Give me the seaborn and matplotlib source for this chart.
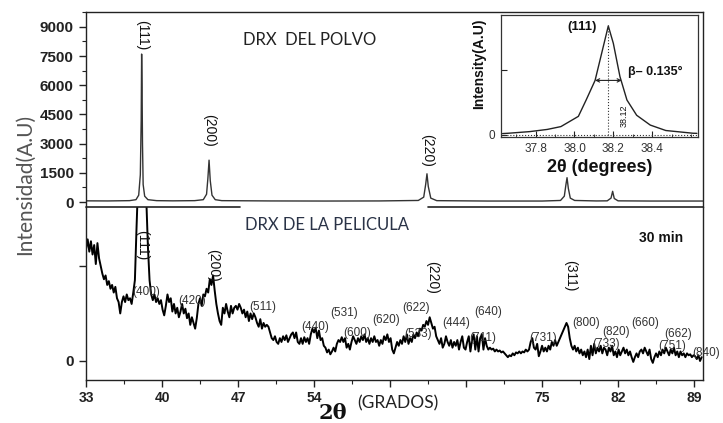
import numpy as np
import pandas as pd
import matplotlib
matplotlib.use("Agg")
import matplotlib.pyplot as plt
import seaborn as sns

# ---------------- data ----------------
# Powder pattern (top panel)
powder_2theta = [33.0, 35.0, 37.0, 37.6, 37.85, 38.0, 38.08, 38.12, 38.16, 38.2, 38.26,
                 38.4, 38.7, 39.5, 41.0, 43.0, 43.8, 44.1, 44.22, 44.33, 44.44, 44.6,
                 44.9, 45.5, 50.0, 55.0, 60.0, 63.6, 64.1, 64.28, 64.4, 64.52, 64.75,
                 65.3, 70.0, 75.0, 76.7, 77.05, 77.2, 77.3, 77.42, 77.6, 78.0, 80.0,
                 81.0, 81.35, 81.5, 81.65, 82.0, 85.0, 89.8]
powder_counts = [60, 55, 70, 120, 350, 1400, 4200, 7600, 5900, 3000, 900,
                 300, 120, 70, 60, 70, 120, 400, 1200, 2150, 1100, 350,
                 120, 70, 55, 50, 55, 80, 250, 900, 1450, 800, 200,
                 70, 50, 50, 80, 300, 900, 1250, 700, 200, 80, 55,
                 60, 200, 550, 180, 60, 50, 50]
powder_peak_labels = ["(111)", "(200)", "(220)"]
powder_peak_2theta = [38.16, 44.33, 64.4]

# Film pattern (bottom panel), 33.0 .. 89.7 deg scan
film_intensity = [
    1.18, 1.28, 1.15, 1.26, 1.12, 1.22, 1.02, 1.24, 1.08, 1.00, 0.92, 0.86, 0.90, 0.80, 0.84,
    0.76, 0.80, 0.72, 0.78, 0.66, 0.62, 0.50, 0.62, 0.68, 0.62, 0.70, 0.64, 0.66, 0.60, 0.72,
    0.85, 1.40, 1.90, 2.05, 2.10, 2.05, 1.95, 1.70, 1.20, 0.85, 0.70,
    0.64, 0.70, 0.62, 0.66, 0.60, 0.64, 0.54, 0.48, 0.58, 0.70, 0.62, 0.66, 0.52, 0.60, 0.50,
    0.56, 0.46, 0.52, 0.60, 0.50, 0.55, 0.45, 0.50, 0.38, 0.46, 0.40, 0.34, 0.45, 0.60, 0.66,
    0.58, 0.70, 0.68, 0.76, 0.72, 0.86, 0.80, 0.90, 0.74, 0.60, 0.50, 0.42, 0.38, 0.56, 0.50,
    0.60, 0.52, 0.46, 0.58, 0.50, 0.56, 0.58, 0.54, 0.60, 0.56, 0.50, 0.54, 0.46, 0.52, 0.42,
    0.50, 0.44, 0.50, 0.46, 0.40, 0.36, 0.44, 0.34, 0.40, 0.36, 0.38, 0.36, 0.30, 0.24, 0.22,
    0.26, 0.20, 0.18, 0.24, 0.20, 0.26, 0.22, 0.27, 0.20, 0.24, 0.28, 0.30, 0.24, 0.30, 0.20,
    0.18, 0.24, 0.18, 0.25, 0.20, 0.24, 0.18, 0.28, 0.34, 0.30, 0.35, 0.24, 0.32, 0.22, 0.24,
    0.16, 0.14, 0.09, 0.12, 0.07, 0.10, 0.14, 0.10, 0.18, 0.22, 0.20, 0.25, 0.20, 0.24, 0.14,
    0.18, 0.12, 0.20, 0.26, 0.22, 0.18, 0.24, 0.20, 0.26, 0.22, 0.28, 0.20, 0.24, 0.18, 0.24,
    0.20, 0.26, 0.20, 0.22, 0.16, 0.22, 0.18, 0.26, 0.22, 0.28, 0.20, 0.24, 0.12, 0.08, 0.14,
    0.20, 0.16, 0.22, 0.18, 0.26, 0.20, 0.28, 0.18, 0.24, 0.20, 0.28, 0.24, 0.30, 0.26, 0.34,
    0.32, 0.38, 0.36, 0.42, 0.38, 0.46, 0.40, 0.34, 0.36, 0.26, 0.22, 0.18, 0.24, 0.14, 0.18,
    0.26, 0.20, 0.16, 0.22, 0.14, 0.20, 0.16, 0.22, 0.12, 0.20, 0.26, 0.14, 0.12, 0.20, 0.26,
    0.10, 0.22, 0.28, 0.12, 0.26, 0.10, 0.24, 0.28, 0.12, 0.24, 0.16, 0.12, 0.14, 0.12, 0.13,
    0.10, 0.12, 0.10, 0.11, 0.09, 0.10, 0.08, 0.06, 0.04, 0.06, 0.05, 0.08, 0.06, 0.09, 0.08,
    0.10, 0.08, 0.10, 0.09, 0.12, 0.10, 0.12, 0.20, 0.24, 0.14, 0.12, 0.18, 0.05, 0.10, 0.16,
    0.10, 0.14, 0.10, 0.16, 0.12, 0.20, 0.16, 0.22, 0.16, 0.20, 0.24, 0.28, 0.32, 0.36, 0.40,
    0.36, 0.24, 0.16, 0.12, 0.16, 0.10, 0.14, 0.08, 0.12, 0.06, 0.10, 0.04, 0.12, 0.02, 0.16,
    0.06, 0.18, 0.08, 0.14, 0.10, 0.16, 0.08, 0.14, 0.12, 0.06, 0.14, 0.10, 0.16, 0.06, 0.10,
    0.04, 0.12, 0.06, 0.10, 0.14, 0.08, 0.12, 0.06, 0.10, 0.04, -0.01, 0.04, 0.08, 0.04, 0.10,
    0.12, 0.08, 0.14, 0.10, 0.06, 0.12, 0.02, -0.02, 0.04, 0.08, 0.04, 0.10, 0.06, 0.12, 0.08,
    0.14, 0.10, 0.06, 0.12, 0.08, 0.14, 0.06, 0.10, 0.04, 0.10, 0.06, 0.08, 0.04, 0.08, 0.06,
    0.07, 0.04, 0.06, 0.05, 0.02, 0.06, 0.00, 0.04]
film_2theta = np.linspace(33.0, 89.7, len(film_intensity))

film_main_labels = ["(111)", "(200)", "(220)", "(311)"]
film_main_2theta = [38.2, 44.7, 64.9, 77.6]
film_main_height = [1.22, 1.01, 0.88, 0.90]

film_minor_labels = ["(400)", "(420)", "(511)", "(531)", "(440)", "(600)", "(620)",
                     "(622)", "(444)", "(640)", "(533)", "(711)", "(731)", "(800)",
                     "(820)", "(733)", "(660)", "(662)", "(751)", "(840)"]
film_minor_2theta = [38.52, 42.76, 49.30, 56.76, 54.09, 57.95, 60.62,
                     63.39, 67.07, 70.02, 63.57, 69.56, 75.08, 79.04,
                     81.80, 80.88, 84.47, 87.51, 86.96, 90.09]
film_minor_height = [0.726, 0.632, 0.568, 0.505, 0.358, 0.295, 0.432,
                     0.558, 0.40, 0.516, 0.284, 0.242, 0.242, 0.40,
                     0.305, 0.175, 0.40, 0.284, 0.158, 0.084]

# Inset (111) peak profile (normalised)
inset_2theta = [37.63, 37.66, 37.77, 37.86, 37.93, 38.02, 38.06, 38.106, 38.14, 38.174,
                38.20, 38.234, 38.27, 38.32, 38.39, 38.47, 38.61, 38.63]
inset_intensity = [0.012, 0.015, 0.03, 0.05, 0.076, 0.17, 0.32, 0.50, 0.75, 1.0,
                   0.84, 0.535, 0.32, 0.18, 0.09, 0.04, 0.015, 0.014]
peak_center = 38.174
fwhm_left, fwhm_right = 38.106, 38.243

bottom_xticks = [33, 40, 47, 54, 61, 68, 75, 82, 89]
bottom_xticklabels = ["33", "40", "47", "54", "", "", "75", "82", "89"]
top_yticks = [0, 1500, 3000, 4500, 6000, 7500, 9000]
inset_xticks = [37.8, 38.0, 38.2, 38.4]

# ---------------- figure ----------------
sns.set_theme(style="white")
plt.rcParams['font.family'] = ['Liberation Sans', 'DejaVu Sans']
plt.rcParams['axes.edgecolor'] = '#222222'
plt.rcParams['axes.linewidth'] = 1.0

fig = plt.figure(figsize=(7.23, 4.23), dpi=100)
ax_top = fig.add_axes([0.119, 0.5106, 0.853, 0.461])
ax_bot = fig.add_axes([0.119, 0.1017, 0.853, 0.4089])
ax_in = fig.add_axes([0.693, 0.676, 0.2725, 0.2884])

ink = '#222222'

# --- top panel
df_p = pd.DataFrame({"tt": powder_2theta, "I": powder_counts})
sns.lineplot(data=df_p, x="tt", y="I", ax=ax_top, color='#333333', lw=1.0,
             estimator=None, sort=False)
ax_top.set_xlim(33, 89.8)
ax_top.set_ylim(-257, 9760)
ax_top.set_xticks([])
ax_top.set_yticks(top_yticks)
ax_top.set_yticks(np.arange(0, 9760, 750), minor=True)
ax_top.set_yticklabels([str(v) for v in top_yticks], fontsize=11,
                       fontweight='bold', color=ink)
ax_top.tick_params(axis='y', which='major', left=True, length=5, width=1, direction='out', color=ink, pad=4)
ax_top.tick_params(axis='y', which='minor', left=True, length=3, width=0.8, direction='out', color=ink)
ax_top.spines['bottom'].set_visible(False)
ax_top.set_xlabel("")
ax_top.set_ylabel("")
for lab, xx, yy in zip(powder_peak_labels, powder_peak_2theta, [8570, 3700, 2670]):
    ax_top.text(xx, yy, lab, rotation=-90, ha='center', va='center', fontsize=10,
                color='#111111')
ax_top.text(47.46, 8320, "DRX  DEL POLVO", ha='left', va='center', fontsize=12,
            family=['Lato', 'DejaVu Sans'], color='#222222')

# --- bottom panel
df_f = pd.DataFrame({"tt": film_2theta, "I": film_intensity})
sns.lineplot(data=df_f, x="tt", y="I", ax=ax_bot, color='black', lw=1.4,
             estimator=None, sort=False)
ax_bot.set_xlim(33, 89.8)
ax_bot.set_ylim(-0.2, 1.62)
ax_bot.set_xticks(bottom_xticks)
ax_bot.set_xticks(np.arange(33, 90, 3.5), minor=True)
ax_bot.set_xticklabels(bottom_xticklabels, fontsize=10, fontweight='bold', color=ink)
ax_bot.set_yticks([0, 1])
ax_bot.set_yticklabels(["0", ""], fontsize=11, fontweight='bold', color=ink)
ax_bot.tick_params(axis='x', which='major', bottom=True, length=5, width=1, direction='out', color=ink, pad=3)
ax_bot.tick_params(axis='x', which='minor', bottom=True, length=3, width=0.8, direction='out', color=ink)
ax_bot.tick_params(axis='y', which='major', left=True, length=5, width=1, direction='out', color=ink)
ax_bot.set_xlabel("")
ax_bot.set_ylabel("")
ax_bot.spines['top'].set_visible(False)
ax_bot.plot([0, 0.25], [1, 1], transform=ax_bot.transAxes, color=ink, lw=1.2, clip_on=False)
ax_bot.plot([0.554, 1], [1, 1], transform=ax_bot.transAxes, color=ink, lw=1.2, clip_on=False)

for lab, xx, yy in zip(film_main_labels, film_main_2theta, film_main_height):
    ax_bot.text(xx, yy, lab, rotation=-90, ha='center', va='center', fontsize=10,
                color='#111111')
for lab, xx, yy in zip(film_minor_labels, film_minor_2theta, film_minor_height):
    ax_bot.text(xx, yy, lab, ha='center', va='center', fontsize=8.5, color='#333333')
ax_bot.text(47.64, 1.43, "DRX DE LA PELICULA", ha='left', va='center', fontsize=12,
            family=['Lato', 'DejaVu Sans'], color='#2a3347')
ax_bot.text(85.95, 1.29, "30 min", ha='center', va='center', fontsize=10,
            fontweight='bold', color='#111111')

# --- inset
ax_in.set_facecolor('white')
df_i = pd.DataFrame({"tt": inset_2theta, "I": inset_intensity})
sns.lineplot(data=df_i, x="tt", y="I", ax=ax_in, color='#222222', lw=1.0,
             estimator=None, sort=False)
ax_in.set_xlim(37.622, 38.636)
ax_in.set_ylim(-0.02, 1.10)
ax_in.set_xticks(inset_xticks)
ax_in.set_xticks(np.arange(37.7, 38.65, 0.1), minor=True)
ax_in.set_xticklabels(["37.8", "38.0", "38.2", "38.4"], fontsize=8.5, color='#333333')
ax_in.set_yticks([0, 0.6])
ax_in.set_yticklabels(["0", ""], fontsize=8.5, color='#333333')
ax_in.tick_params(axis='both', which='major', direction='in', length=4, width=0.8,
                  bottom=True, left=True, color=ink, pad=4)
ax_in.tick_params(axis='x', which='minor', direction='in', length=2, width=0.6,
                  bottom=True, color=ink)
ax_in.set_xlabel("2θ (degrees)", fontsize=13, fontweight='bold', color='#111111', labelpad=3)
ax_in.set_ylabel("Intensity(A.U)", fontsize=10, fontweight='bold', color='#111111')
ax_in.yaxis.set_label_coords(-0.075, 0.6)
ax_in.axvline(peak_center, ymin=0.018, ymax=0.93, color='#333333', lw=0.8, ls=':')
ax_in.axhline(0, color='#333333', lw=0.8, ls=':')
ax_in.annotate("", xy=(fwhm_left, 0.5), xytext=(fwhm_right, 0.5),
               arrowprops=dict(arrowstyle='<->', color='#222222', lw=0.8,
                               shrinkA=0, shrinkB=0, mutation_scale=6))
ax_in.text(38.04, 0.99, "(111)", ha='center', va='center', fontsize=9.5,
           fontweight='bold', color='#111111')
ax_in.text(38.275, 0.58, "β– 0.135°", ha='left', va='center', fontsize=9,
           fontweight='bold', color='#111111')
ax_in.text(38.255, 0.18, "38.12", rotation=90, ha='center', va='center', fontsize=6.5,
           color='#111111')
for s in ax_in.spines.values():
    s.set_color('#333333')
    s.set_linewidth(0.9)

# --- axis titles
fig.text(0.035, 0.565, "Intensidad(A.U)", rotation=90, ha='center', va='center',
         fontsize=15, family=['Lato', 'DejaVu Sans'], color='#555555')
fig.text(0.4606, 0.024, "2θ", ha='center', va='center', fontsize=15,
         fontweight='bold', family=['DejaVu Serif'], color='#111111')
fig.text(0.5505, 0.047, "(GRADOS)", ha='center', va='center', fontsize=12.5,
         family=['Lato', 'DejaVu Sans'], color='#222222')

fig.savefig("out.png", dpi=100, facecolor='white')
